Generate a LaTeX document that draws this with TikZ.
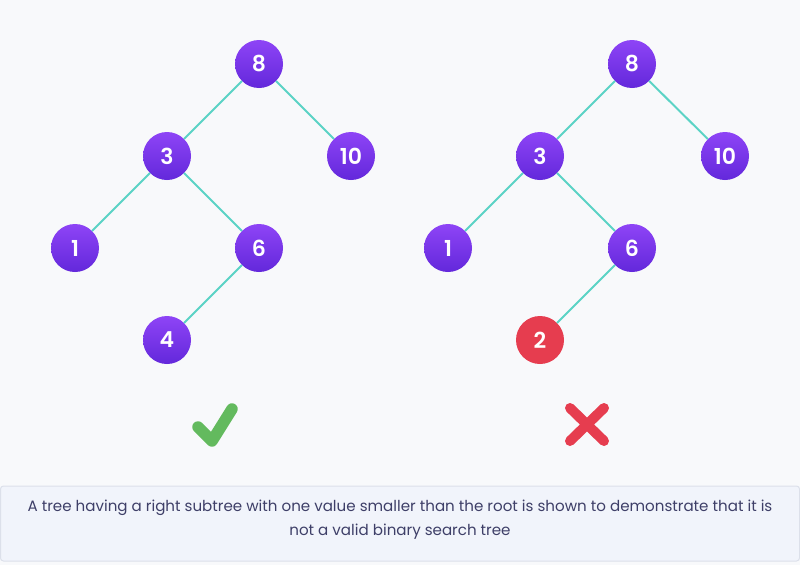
\documentclass[tikz,border=0pt]{standalone}
\usepackage{fontspec}
\setmainfont{Poppins}
\newfontfamily\numfont{Poppins}[UprightFont=*-SemiBold]
\definecolor{bgc}{HTML}{F8F9FB}
\definecolor{edgec}{HTML}{5BD3C5}
\definecolor{ptop}{HTML}{8E44F6}
\definecolor{pbot}{HTML}{6328DB}
\definecolor{rednode}{HTML}{E63D4F}
\definecolor{okgreen}{HTML}{63BA5E}
\definecolor{capfill}{HTML}{F1F4FB}
\definecolor{capline}{HTML}{DCE0EA}
\definecolor{captext}{HTML}{3E3F68}
\tikzset{
  tnode/.style={circle, minimum size=48pt, inner sep=0pt, top color=ptop, bottom color=pbot, draw=none, text=white, font=\numfont\fontsize{22}{22}\selectfont},
  badnode/.style={circle, minimum size=48pt, inner sep=0pt, fill=rednode, draw=none, text=white, font=\numfont\fontsize{22}{22}\selectfont},
  tedge/.style={draw=edgec, line width=2pt},
}
\begin{document}
\begin{tikzpicture}[x=1pt,y=-1pt]
\fill[bgc] (0,0) rectangle (800,565);
\useasboundingbox (0,0) rectangle (800,565);
% left tree
\node[tnode] (a8) at (259,64) {8};
\node[tnode] (a3) at (167,156) {3};
\node[tnode] (a10) at (351,156) {10};
\node[tnode] (a1) at (75,248) {1};
\node[tnode] (a6) at (259,248) {6};
\node[tnode] (a4) at (167,340) {4};
% right tree
\node[tnode] (b8) at (632,64) {8};
\node[tnode] (b3) at (540,156) {3};
\node[tnode] (b10) at (725,156) {10};
\node[tnode] (b1) at (448,248) {1};
\node[tnode] (b6) at (632,248) {6};
\node[badnode] (b2) at (540,340) {2};
\path[tedge] (a8) -- (a3) (a8) -- (a10) (a3) -- (a1) (a3) -- (a6) (a6) -- (a4);
\path[tedge] (b8) -- (b3) (b8) -- (b10) (b3) -- (b1) (b3) -- (b6) (b6) -- (b2);
% check mark
\coordinate (c1) at (198,427);
\coordinate (c2) at (212,441);
\coordinate (c3) at (232,409);
\draw[okgreen, line width=11.5pt, line cap=round, line join=round] (c1) -- (c2) -- (c3);
% cross
\coordinate (x1) at (570,408);
\coordinate (x2) at (604,441);
\coordinate (x3) at (604,408);
\coordinate (x4) at (570,441);
\draw[rednode, line width=10pt, line cap=round] (x1) -- (x2) (x3) -- (x4);
% caption
\draw[fill=capfill, draw=capline, line width=1pt, rounded corners=3pt] (0.5,486) rectangle (799.5,561);
\node[text=captext, font=\fontsize{15.1}{24}\selectfont, align=center] (cap) at (400,520) {A tree having a right subtree with one value smaller than the root is shown to demonstrate that it is\\not a valid binary search tree};
\end{tikzpicture}
\end{document}
